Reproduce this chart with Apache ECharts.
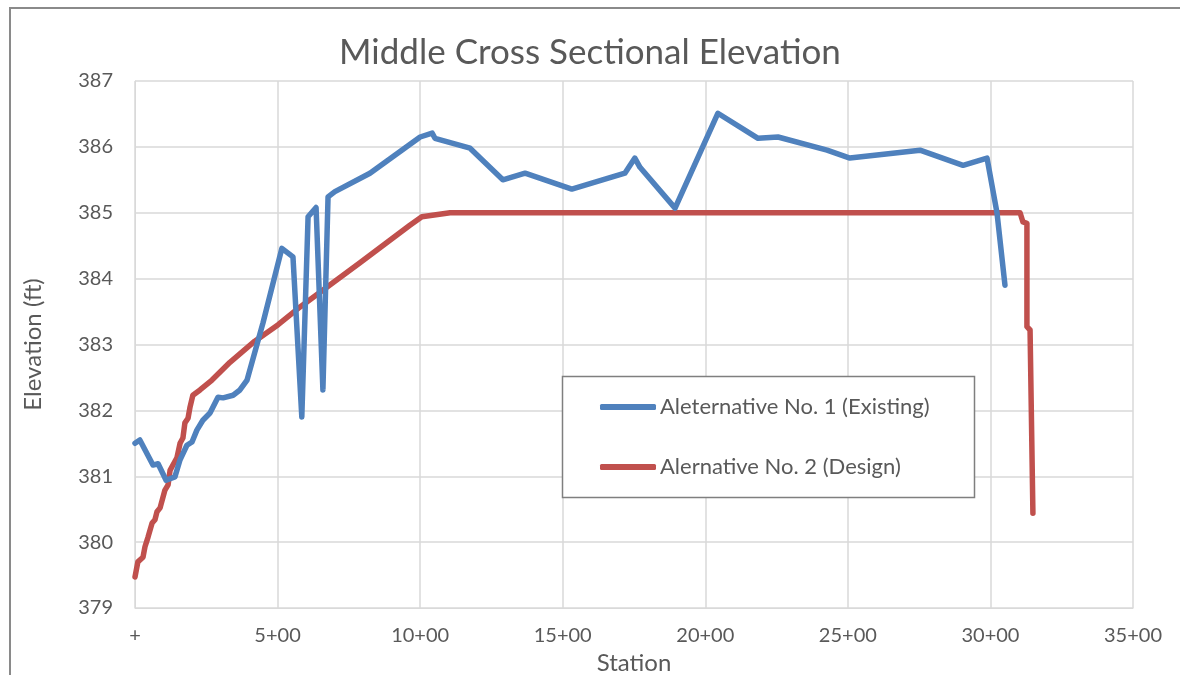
<!DOCTYPE html>
<html>
<head>
<meta charset="utf-8">
<script src="https://cdn.jsdelivr.net/npm/echarts@6/dist/echarts.min.js"></script>
<style>
html,body{margin:0;padding:0;background:#fff;}
#chart{width:1180px;height:675px;}
</style>
</head>
<body>
<div id="chart"></div>
<script>
const titleText = 'Middle Cross Sectional Elevation';
const seriesNames = ['Aleternative No. 1 (Existing)', 'Alernative No. 2 (Design)'];
const xTickLabels = ['+', '5+00', '10+00', '15+00', '20+00', '25+00', '30+00', '35+00'];
const yTickLabels = ['379', '380', '381', '382', '383', '384', '385', '386', '387'];

// Existing ground: station (ft), elevation (ft)
const existingStation = [0, 17, 63, 81, 109, 140, 158, 182, 200, 217, 238, 263, 291, 309, 344, 368, 393, 449, 515, 554, 585, 607, 635, 659, 677, 701, 824, 1000, 1042, 1052, 1175, 1290, 1368, 1532, 1718, 1753, 1771, 1894, 2044, 2185, 2255, 2427, 2507, 2753, 2904, 2988, 3023, 3051];
const existingElev = [381.50, 381.55, 381.17, 381.19, 380.94, 380.99, 381.25, 381.47, 381.52, 381.70, 381.85, 381.96, 382.20, 382.19, 382.23, 382.31, 382.46, 383.33, 384.46, 384.33, 381.90, 384.94, 385.08, 382.31, 385.24, 385.32, 385.60, 386.15, 386.21, 386.13, 385.98, 385.50, 385.60, 385.36, 385.60, 385.83, 385.69, 385.07, 386.51, 386.13, 386.15, 385.95, 385.83, 385.95, 385.72, 385.83, 385.00, 383.90];

// Design profile: station (ft), elevation (ft)
const designStation = [0, 4, 10, 28, 35, 46, 53, 60, 70, 77, 88, 105, 116, 123, 133, 147, 158, 168, 175, 186, 193, 203, 228, 270, 333, 420, 502, 579, 789, 964, 1006, 1105, 3104, 3114, 3128, 3128, 3139, 3149];
const designElev = [379.47, 379.49, 379.70, 379.77, 379.93, 380.08, 380.11, 380.29, 380.34, 380.46, 380.52, 380.79, 380.87, 381.09, 381.17, 381.28, 381.50, 381.58, 381.81, 381.88, 382.05, 382.23, 382.31, 382.46, 382.73, 383.05, 383.30, 383.57, 384.24, 384.81, 384.94, 385.00, 385.00, 384.86, 384.84, 383.27, 383.22, 380.44];

const existingData = existingStation.map((s, i) => [s, existingElev[i]]);
const designData = designStation.map((s, i) => [s, designElev[i]]);

const FONT = 'Lato';
const TXT = '#595959';
const GRID = '#d9d9d9';

const chart = echarts.init(document.getElementById('chart'), null, {renderer: 'canvas'});
chart.setOption({
  animation: false,
  backgroundColor: '#fff',
  title: {
    text: titleText,
    left: 'center',
    top: 30,
    textStyle: {fontFamily: FONT, fontSize: 35, fontWeight: 'normal', color: TXT}
  },
  graphic: [
    {type: 'rect', shape: {x: 10, y: 8, width: 1220, height: 720}, style: {fill: 'none', stroke: '#8a8a8a', lineWidth: 2}, silent: true, z: 100},
    {type: 'rect', shape: {x: 562.5, y: 376.5, width: 412, height: 121}, style: {fill: '#fff', stroke: '#7f7f7f', lineWidth: 1.5}, silent: true, z: 50}
  ],
  legend: {
    orient: 'vertical',
    left: 600,
    top: 394,
    padding: 0,
    itemGap: 34,
    itemWidth: 56,
    itemHeight: 6,
    icon: 'roundRect',
    z: 60,
    textStyle: {fontFamily: FONT, fontSize: 22, color: TXT, lineHeight: 26, padding: [0, 0, 0, -1]},
    data: seriesNames
  },
  grid: {left: 135, right: 47, top: 81, bottom: 67, containLabel: false, outerBoundsMode: 'none'},
  xAxis: {
    type: 'value',
    min: 0, max: 3500, interval: 500,
    name: 'Station',
    nameLocation: 'middle',
    nameGap: 41,
    nameTextStyle: {fontFamily: FONT, fontSize: 24, color: TXT},
    axisLine: {show: true, lineStyle: {color: GRID, width: 1}},
    axisTick: {show: false},
    axisLabel: {
      margin: 18, fontFamily: FONT, fontSize: 20, color: TXT,
      formatter: v => xTickLabels[Math.round(v / 500)]
    },
    splitLine: {show: true, lineStyle: {color: GRID, width: 1.5}}
  },
  yAxis: {
    type: 'value',
    min: 379, max: 387, interval: 1,
    name: 'Elevation (ft)',
    nameLocation: 'middle',
    nameGap: 90,
    nameRotate: 90,
    nameTextStyle: {fontFamily: FONT, fontSize: 24, color: TXT},
    axisLine: {show: true, lineStyle: {color: GRID, width: 1}},
    axisTick: {show: false},
    axisLabel: {
      margin: 22, fontFamily: FONT, fontSize: 20, color: TXT,
      formatter: v => yTickLabels[Math.round(v - 379)]
    },
    splitLine: {show: true, lineStyle: {color: GRID, width: 1.5}}
  },
  series: [
    {
      name: seriesNames[0], type: 'line', data: existingData,
      showSymbol: false, symbol: 'none',
      color: '#4F81BD',
      lineStyle: {width: 5.5, color: '#4F81BD', cap: 'round', join: 'round'},
      z: 3
    },
    {
      name: seriesNames[1], type: 'line', data: designData,
      showSymbol: false, symbol: 'none',
      color: '#C0504D',
      lineStyle: {width: 5.5, color: '#C0504D', cap: 'round', join: 'round'},
      z: 2
    }
  ]
});
</script>
</body>
</html>
